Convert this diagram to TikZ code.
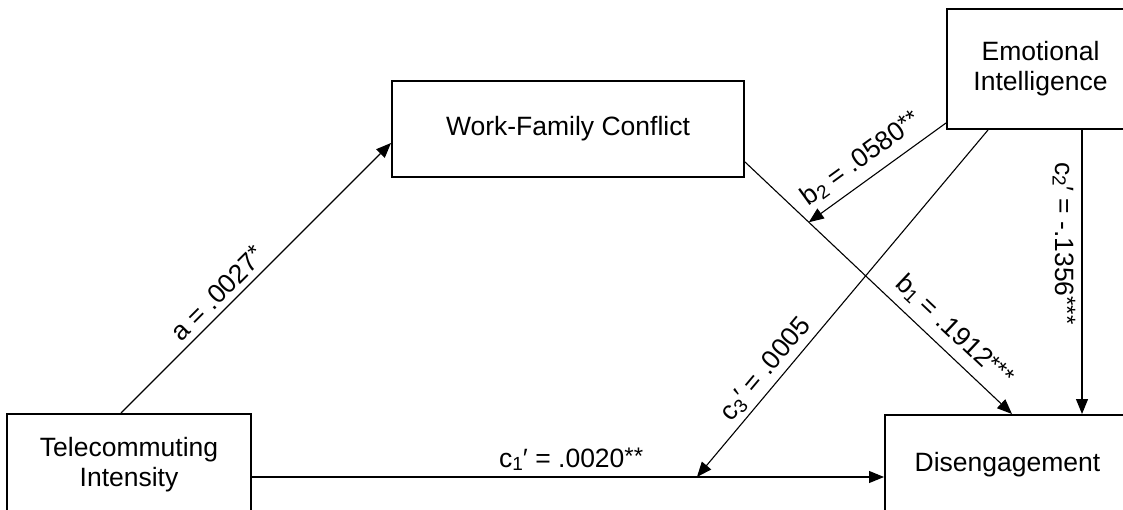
\documentclass[tikz,border=0pt]{standalone}
\usepackage{fontspec}
\setmainfont{Liberation Sans}
\usetikzlibrary{arrows.meta,calc}
\newcommand\mysup[1]{\raisebox{0.12em}{\fontsize{24}{24}\selectfont #1}}
\newcommand\mysub[1]{\raisebox{-0.12em}{\fontsize{19}{19}\selectfont #1}}
\begin{document}
\begin{tikzpicture}[x=1pt,y=-1pt,
  box/.style={draw,line width=2pt,align=center,inner sep=0pt,font=\fontsize{26.5}{30}\selectfont},
  conn/.style={line width=1.1pt,-{Triangle[length=15pt,width=12pt]}},
  lab/.style={font=\fontsize{26.5}{30}\selectfont,sloped,inner sep=0pt}]
\useasboundingbox (0,0) rectangle (1123,510);
\clip (0,0) rectangle (1123,510);
\node[box,minimum width=244pt,minimum height=102pt] (tel) at (129,465) {Telecommuting\\Intensity};
\node[box,minimum width=352pt,minimum height=96pt] (wfc) at (568,129) {Work-Family Conflict};
\node[box,minimum width=187pt,minimum height=120pt] (ei) at (1040.5,69) {Emotional\\Intelligence};
\node[box,minimum width=245pt,minimum height=100pt] (dis) at (1007.5,465) {Disengagement};
\coordinate (aS) at ($(tel.north)+(-8,0)$);
\coordinate (aE) at ($(wfc.west)+(0,14)$);
\coordinate (b1S) at ($(wfc.east)+(0,33)$);
\coordinate (b1E) at ($(dis.north)+(4.5,0)$);
\coordinate (b2S) at ($(ei.south west)+(0,-7)$);
\coordinate (b2E) at ($(b1S)!0.239!(b1E)$);
\coordinate (c1S) at ($(tel.east)+(0,12)$);
\coordinate (c1E) at ($(dis.west)+(0,12)$);
\coordinate (c3S) at ($(ei.south)+(-52.5,0)$);
\coordinate (c3E) at ($(c1S)!0.704!(c1E)$);
\coordinate (c2S) at ($(ei.south)+(41.5,0)$);
\coordinate (c2E) at ($(dis.north)+(74.5,0)$);
\draw[conn] (aS) -- node[lab,above=6pt,pos=0.4] {a = .0027\mysup{*}} (aE);
\draw[conn] (b1S) -- node[lab,above=9pt,pos=0.73] {b\mysub{1} = .1912\mysup{***}} (b1E);
\draw[conn] (b2S) -- node[lab,above=9pt,pos=0.53] {b\mysub{2} = .0580\mysup{**}} (b2E);
\draw[conn] (c1S) -- node[lab,above=6pt,pos=0.505] {c\mysub{1}′ = .0020\mysup{**}} (c1E);
\draw[conn] (c3S) -- node[lab,above=5pt,pos=0.72] {c\mysub{3}′ = .0005} (c3E);
\draw[conn] (c2S) -- node[lab,below=6pt,pos=0.40] {c\mysub{2}′ = -.1356\mysup{***}} (c2E);
\end{tikzpicture}
\end{document}
